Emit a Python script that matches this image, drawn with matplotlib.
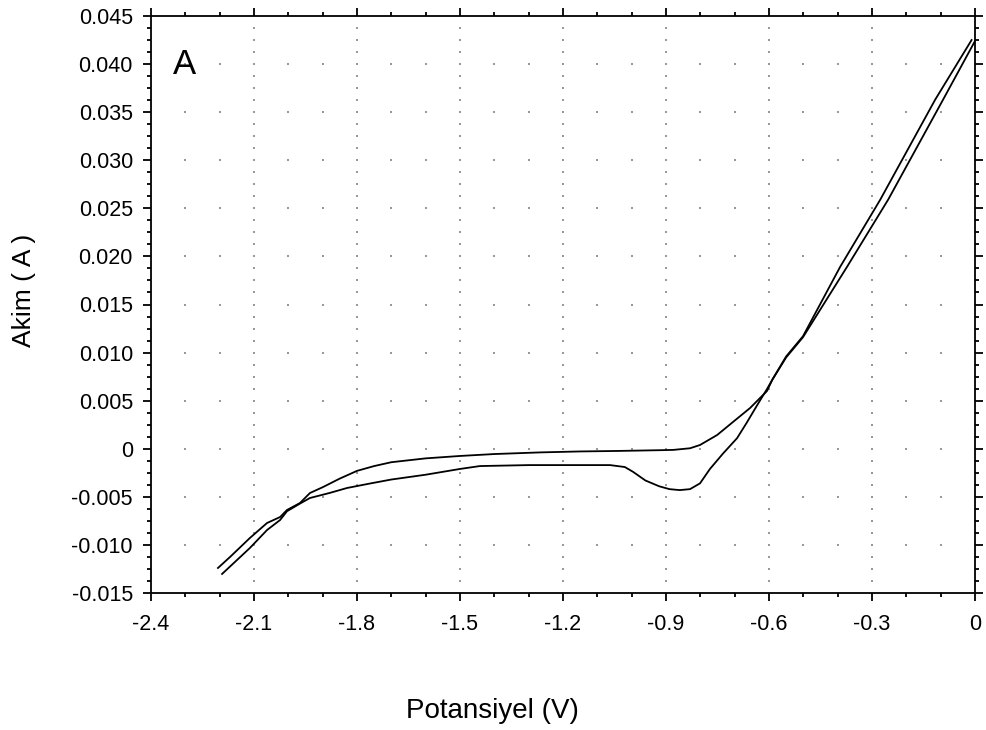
import numpy as np
import matplotlib
matplotlib.use("Agg")
import matplotlib.pyplot as plt
from matplotlib.ticker import FixedLocator, FixedFormatter, MultipleLocator

# Cyclic voltammogram: two sweep branches, potential (V) vs current (A)
branch_a_v = [-2.205, -2.170, -2.112, -2.062, -2.024, -2.004, -1.966, -1.937,
              -1.900, -1.850, -1.800, -1.750, -1.700, -1.600, -1.500, -1.400,
              -1.267, -1.150, -1.043, -0.917, -0.879, -0.830, -0.801, -0.751,
              -0.705, -0.655, -0.606, -0.590, -0.550, -0.501, -0.373, -0.253,
              -0.093, 0.000]
branch_a_i = [-0.0124, -0.01126, -0.00928, -0.00772, -0.0071, -0.00637, -0.00564, -0.0046,
              -0.0040, -0.0031, -0.0023, -0.0018, -0.0014, -0.0010, -0.00075, -0.00055,
              -0.00038, -0.00028, -0.00023, -0.00015, -0.00012, 0.00005, 0.00039, 0.00143,
              0.00278, 0.00424, 0.0060, 0.0072, 0.0095, 0.0116, 0.0189, 0.0259,
              0.0363, 0.0424]

branch_b_v = [-2.193, -2.112, -2.062, -2.024, -2.004, -1.966, -1.937, -1.880,
              -1.829, -1.760, -1.700, -1.600, -1.500, -1.442, -1.300, -1.150,
              -1.063, -1.020, -0.996, -0.960, -0.920, -0.890, -0.860, -0.830,
              -0.801, -0.772, -0.734, -0.693, -0.665, -0.635, -0.606, -0.590,
              -0.550, -0.501, -0.393, -0.276, -0.116, -0.010]
branch_b_i = [-0.01302, -0.01032, -0.00845, -0.00741, -0.0065, -0.0057, -0.00512, -0.0046,
              -0.00408, -0.0036, -0.0032, -0.0027, -0.0021, -0.0018, -0.0017, -0.0017,
              -0.0017, -0.0019, -0.0024, -0.0033, -0.0039, -0.0042, -0.0043, -0.0042,
              -0.0036, -0.0021, -0.0005, 0.0011, 0.0027, 0.0045, 0.0062, 0.0072,
              0.0096, 0.0117, 0.0189, 0.0259, 0.0363, 0.0425]

x_ticks = [-2.4, -2.1, -1.8, -1.5, -1.2, -0.9, -0.6, -0.3, 0.0]
x_labels = ["-2.4", "-2.1", "-1.8", "-1.5", "-1.2", "-0.9", "-0.6", "-0.3", "0"]
y_ticks = [-0.015, -0.010, -0.005, 0.0, 0.005, 0.010, 0.015, 0.020,
           0.025, 0.030, 0.035, 0.040, 0.045]
y_labels = ["-0.015", "-0.010", "-0.005", "0", "0.005", "0.010", "0.015", "0.020",
            "0.025", "0.030", "0.035", "0.040", "0.045"]

plt.rcParams["font.family"] = ["Liberation Sans", "DejaVu Sans"]

fig = plt.figure(figsize=(9.87, 7.3), dpi=100)
ax = fig.add_axes([151 / 987, 1 - 593 / 730, 824 / 987, 577 / 730])

xmin, xmax = x_ticks[0], x_ticks[-1]
ymin, ymax = y_ticks[0], y_ticks[-1]
ax.set_xlim(xmin, xmax)
ax.set_ylim(ymin, ymax)

# dotted grid: vertical lines at major x ticks dotted at minor y steps,
# horizontal lines at major y ticks dotted at minor x steps
x_minor_step = 0.1
y_minor_step = 0.00125
x_minor = np.arange(xmin, xmax + 1e-9, x_minor_step)
y_minor = np.arange(ymin, ymax + 1e-9, y_minor_step)
inner_xmaj = [v for v in x_ticks if xmin < v < xmax]
inner_ymaj = [v for v in y_ticks if ymin < v < ymax]
inner_xmin = [v for v in x_minor if xmin + 1e-6 < v < xmax - 1e-6]
inner_ymin = [v for v in y_minor if ymin + 1e-9 < v < ymax - 1e-9]
gx, gy = [], []
for xv in inner_xmaj:
    for yv in inner_ymin:
        gx.append(xv); gy.append(yv)
for yv in inner_ymaj:
    for xv in inner_xmin:
        gx.append(xv); gy.append(yv)
ax.scatter(gx, gy, s=1.6, marker="s", color="#999999", linewidths=0, zorder=1)

ax.plot(branch_a_v, branch_a_i, color="black", lw=1.3, zorder=3)
ax.plot(branch_b_v, branch_b_i, color="black", lw=1.3, zorder=3)

ax.xaxis.set_major_locator(FixedLocator(x_ticks))
ax.xaxis.set_major_formatter(FixedFormatter(x_labels))
ax.yaxis.set_major_locator(FixedLocator(y_ticks))
ax.yaxis.set_major_formatter(FixedFormatter(y_labels))
ax.xaxis.set_minor_locator(MultipleLocator(x_minor_step))
ax.yaxis.set_minor_locator(MultipleLocator(y_minor_step))

ax.tick_params(which="both", direction="out", top=True, right=True,
               labeltop=False, labelright=False, width=1.3, color="black")
ax.tick_params(which="major", length=6)
ax.tick_params(which="minor", length=3)
ax.tick_params(axis="x", which="major", labelsize=15.5, pad=9)
ax.tick_params(axis="y", which="major", labelsize=15.5, pad=7)
for sp in ax.spines.values():
    sp.set_linewidth(1.3)

ax.text(173 / 987, 1 - 74 / 730, "A", transform=fig.transFigure,
        fontsize=25, ha="left", va="baseline")

fig.text(492 / 987, 1 - 718 / 730, "Potansiyel (V)", fontsize=20,
         ha="center", va="baseline")
fig.text(24 / 987, 1 - 290 / 730, "Akim ( A )", fontsize=19, rotation=90,
         ha="center", va="center")

fig.savefig("out.png", dpi=100, facecolor="white")
